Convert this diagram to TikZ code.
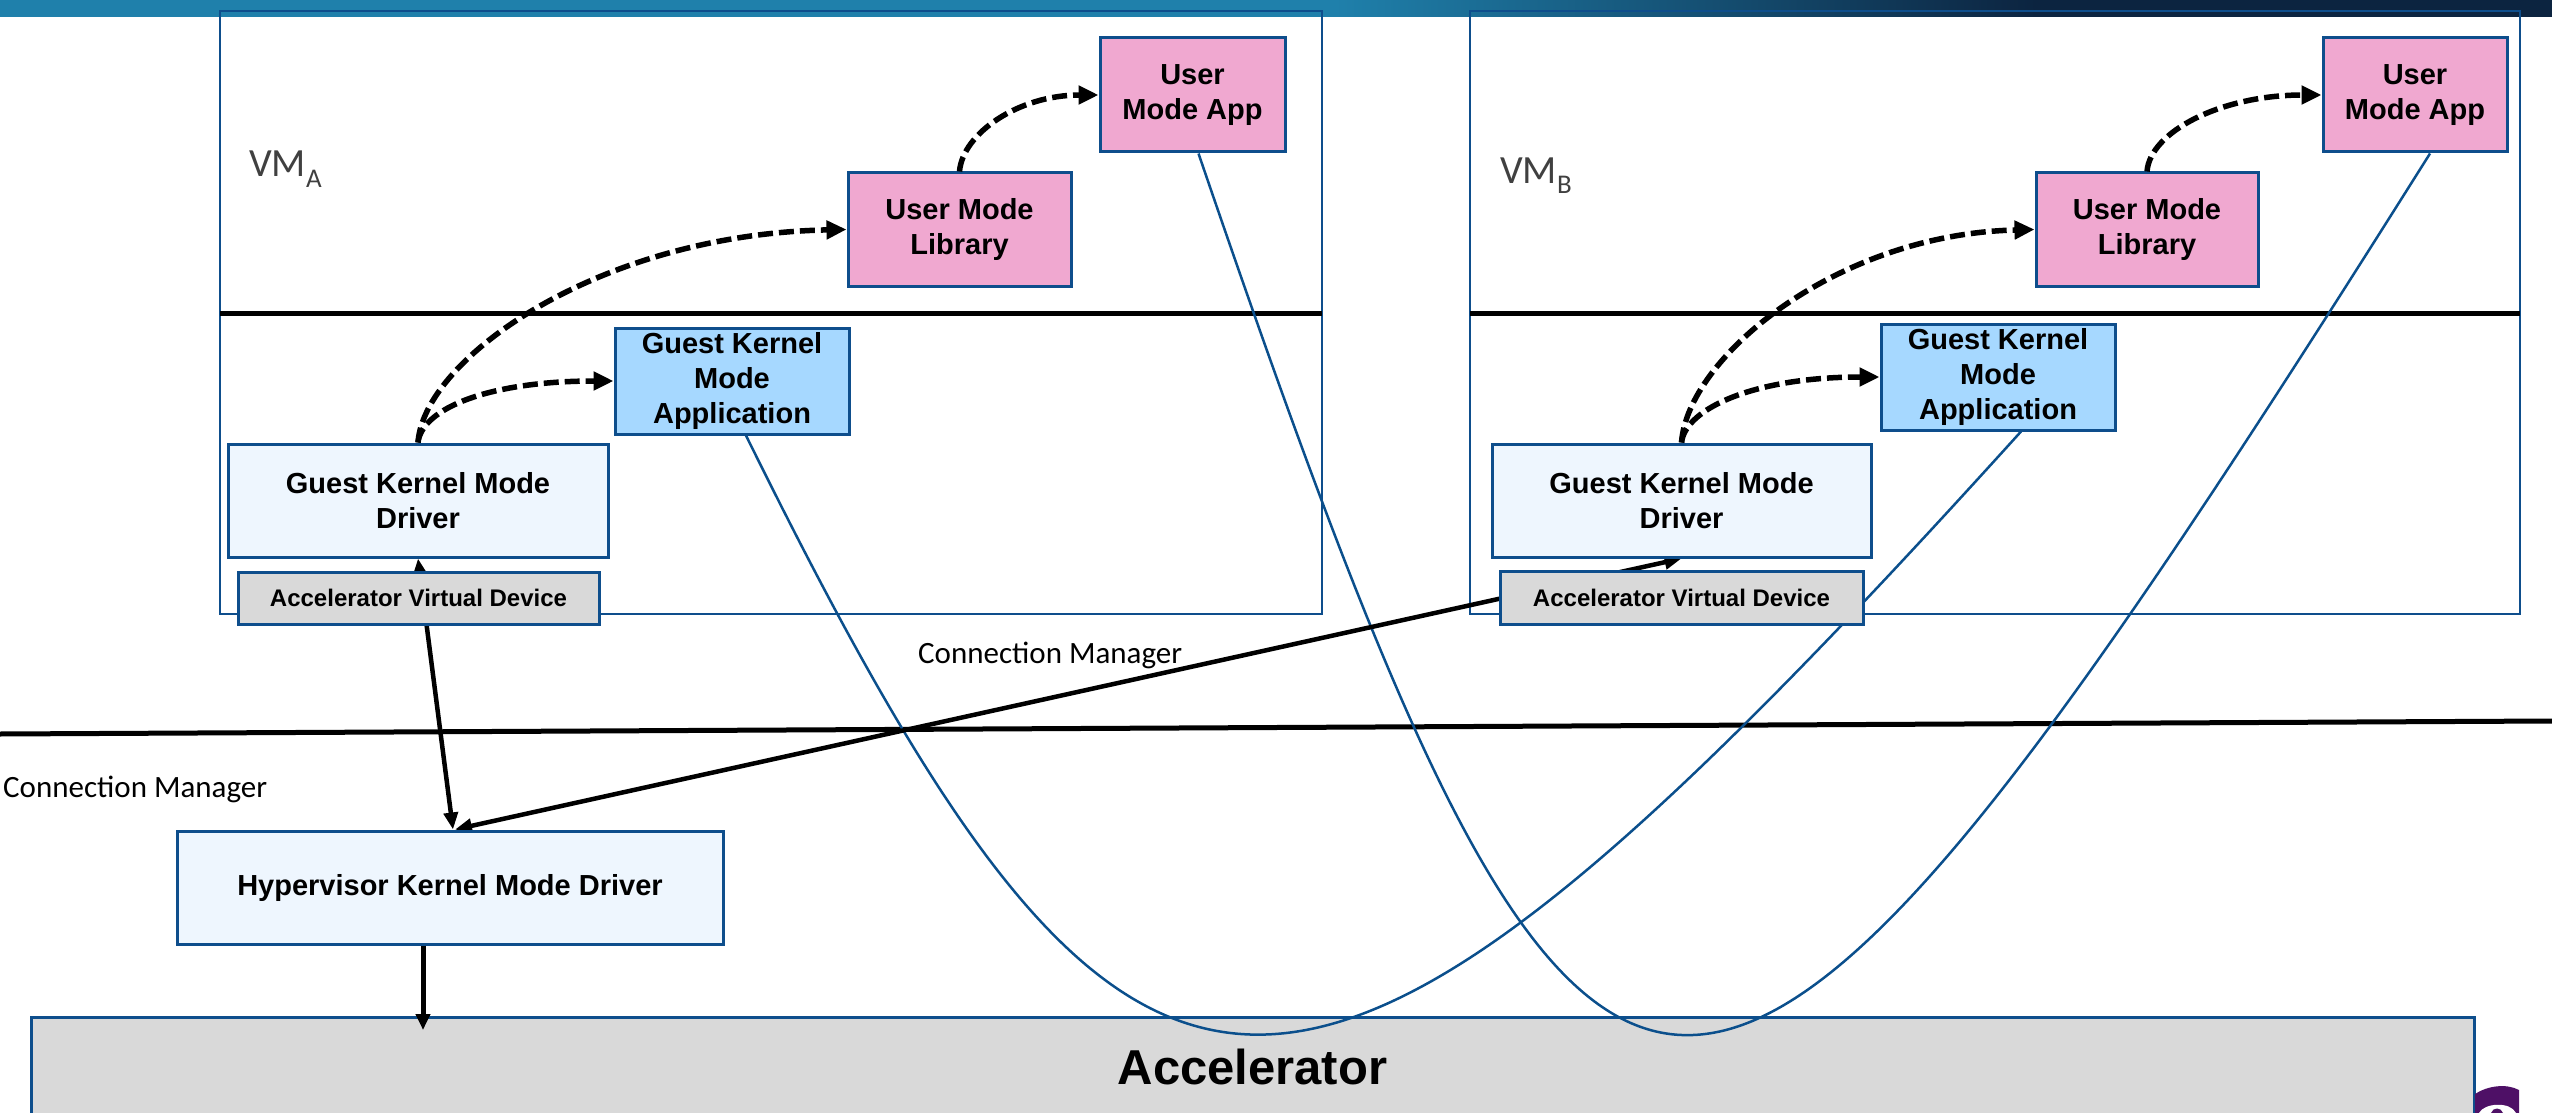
\documentclass[tikz,border=0pt]{standalone}
\usepackage{fontspec}
\setmainfont{Liberation Sans}
\newfontfamily\calib{Carlito}
\usetikzlibrary{arrows.meta,calc}

\definecolor{edge}{HTML}{0E4E8C}
\definecolor{pinkfill}{HTML}{F0A8D0}
\definecolor{skyfill}{HTML}{A6D8FF}
\definecolor{palefill}{HTML}{EEF6FE}
\definecolor{greyfill}{HTML}{D9D9D9}
\definecolor{barlight}{HTML}{1F80AB}
\definecolor{bardark}{HTML}{0C2440}
\definecolor{wire}{HTML}{0B4F8C}
\definecolor{vmtext}{HTML}{404040}
\definecolor{logo}{HTML}{4E1066}

\tikzset{
  box/.style={draw=edge, line width=3pt, inner sep=0pt, align=center,
              font=\bfseries\fontsize{29}{35}\selectfont},
  userbox/.style={box, fill=pinkfill},
  kernapp/.style={box, fill=skyfill},
  drvbox/.style={box, fill=palefill},
  devbox/.style={box, fill=greyfill, font=\bfseries\fontsize{24}{28}\selectfont},
  vmframe/.style={draw=edge, line width=2.5pt},
  split/.style={draw=black, line width=5pt},
  wirecurve/.style={draw=wire, line width=2.5pt},
  callflow/.style={draw=black, line width=5.5pt, dash pattern=on 15pt off 6pt,
                   -{Triangle[length=20pt,width=18pt]}},
  conn/.style={draw=black, line width=4.5pt,
               {Triangle[length=17pt,width=14pt]}-{Triangle[length=17pt,width=14pt]}},
  down/.style={draw=black, line width=5pt, -{Triangle[length=16pt,width=14pt]}},
  vmlabel/.style={anchor=base west, inner sep=0pt, text=vmtext,
                  font=\calib\fontsize{40}{48}\selectfont},
  cmlabel/.style={anchor=base west, inner sep=0pt, text=black,
                  font=\calib\fontsize{31}{37}\selectfont}
}

\begin{document}
\begin{tikzpicture}[x=1pt,y=-1pt]
\useasboundingbox (0,0) rectangle (2552,1113);
\clip (0,0) rectangle (2552,1113);

% title bar with its gradient
\fill[barlight] (0,0) rectangle (1336,17);
\shade[left color=barlight, right color=bardark] (1335,0) rectangle (2036,17);
\fill[bardark] (2035,0) rectangle (2552,17);

% virtual machine frames with user/kernel split
\draw[vmframe] (220,11) rectangle (1322,614);
\draw[vmframe] (1470,11) rectangle (2520,614);
\draw[split] (220,313) -- (1322,313);
\draw[split] (1470,313) -- (2520,313);

% guest / hypervisor boundary
\draw[split] (0,734) -- (2552,721);

% accelerator
\node[box, fill=greyfill, minimum width=2443pt, minimum height=100pt,
      font=\bfseries\fontsize{49}{58}\selectfont] (accel) at (1252.5,1067) {Accelerator};

% boxes (placed first so the wires can refer to them)
\node[userbox, minimum width=185pt, minimum height=114pt] (umaA) at (1192.5,95) {User\\Mode App};
\node[userbox, minimum width=223pt, minimum height=113pt] (umlA) at (959.5,229.5) {User Mode\\Library};
\node[kernapp, minimum width=234pt, minimum height=106pt] (gkmaA) at (732,381) {Guest Kernel\\Mode\\Application};
\node[drvbox, minimum width=380pt, minimum height=113pt] (gkmdA) at (418,500.5) {Guest Kernel Mode\\Driver};

\node[userbox, minimum width=184pt, minimum height=114pt] (umaB) at (2415,95) {User\\Mode App};
\node[userbox, minimum width=222pt, minimum height=113pt] (umlB) at (2147,229.5) {User Mode\\Library};
\node[kernapp, minimum width=234pt, minimum height=106pt] (gkmaB) at (1998,377) {Guest Kernel\\Mode\\Application};
\node[drvbox, minimum width=379pt, minimum height=113pt] (gkmdB) at (1681.5,500.5) {Guest Kernel Mode\\Driver};

\node[drvbox, minimum width=546pt, minimum height=113pt] (hkmd) at (450,887.5) {Hypervisor Kernel Mode Driver};

% shared-memory wires down to the accelerator
\draw[wirecurve] ([xshift=14pt]gkmaA.south) .. controls (1140,1235) and (1294,1235) .. ([xshift=23pt]gkmaB.south);
\draw[wirecurve] ([xshift=6pt]umaA.south) .. controls (1600,1329) and (1690,1329) .. ([xshift=15pt]umaB.south);

% connection manager links (pass behind the virtual devices)
\draw[conn] (gkmdA.south) -- ([xshift=3pt]hkmd.north);
\draw[conn] (gkmdB.south) -- ([xshift=5pt]hkmd.north);

% virtual devices
\node[devbox, minimum width=361pt, minimum height=52pt] (avdA) at (418.5,598) {Accelerator Virtual Device};
\node[devbox, minimum width=363pt, minimum height=53pt] (avdB) at (1681.5,597.5) {Accelerator Virtual Device};

% redraw boxes that the wires start from, so the wires tuck under them
\node[kernapp, minimum width=234pt, minimum height=106pt] at (gkmaA) {Guest Kernel\\Mode\\Application};
\node[kernapp, minimum width=234pt, minimum height=106pt] at (gkmaB) {Guest Kernel\\Mode\\Application};
\node[userbox, minimum width=185pt, minimum height=114pt] at (umaA) {User\\Mode App};
\node[userbox, minimum width=184pt, minimum height=114pt] at (umaB) {User\\Mode App};
\node[drvbox, minimum width=380pt, minimum height=113pt] at (gkmdA) {Guest Kernel Mode\\Driver};
\node[drvbox, minimum width=379pt, minimum height=113pt] at (gkmdB) {Guest Kernel Mode\\Driver};
\node[drvbox, minimum width=546pt, minimum height=113pt] at (hkmd) {Hypervisor Kernel Mode Driver};

% call flow inside each VM
\draw[callflow] (gkmdA.north) .. controls +(6,-84) and +(-248,5) .. (umlA.west);
\draw[callflow] (gkmdA.north) .. controls +(4,-34) and +(-125,0) .. (gkmaA.west);
\draw[callflow] (umlA.north) .. controls +(3,-38) and +(-80,0) .. (umaA.west);

\draw[callflow] (gkmdB.north) .. controls +(6,-84) and +(-200,5) .. (umlB.west);
\draw[callflow] (gkmdB.north) .. controls +(4,-34) and +(-125,0) .. (gkmaB.west);
\draw[callflow] (umlB.north) .. controls +(3,-40) and +(-100,0) .. (umaB.west);

% hypervisor driver to accelerator
\coordinate (accIn) at (423,1030);
\draw[down] ([xshift=-27pt]hkmd.south) -- (accIn);

% labels
\node[vmlabel] (vmA) at (249,177) {VM\raisebox{-10pt}{\fontsize{27}{30}\selectfont A}};
\node[vmlabel] (vmB) at (1500,183) {VM\raisebox{-10pt}{\fontsize{27}{30}\selectfont B}};
\node[cmlabel] (cmLeft) at (3,797) {Connection Manager};
\node[cmlabel] (cmMid) at (918,663) {Connection Manager};

% corner emblem
\fill[logo] (2475,1113) -- (2475,1094) .. controls (2487,1086) and (2506,1083) .. (2519,1090) -- (2519,1113) -- cycle;
\fill[white] (2479,1113) .. controls (2484,1103) and (2510,1101) .. (2516,1113) -- cycle;
\fill[logo] (2491,1113) .. controls (2493,1107) and (2501,1107) .. (2503,1113) -- cycle;
\end{tikzpicture}
\end{document}
